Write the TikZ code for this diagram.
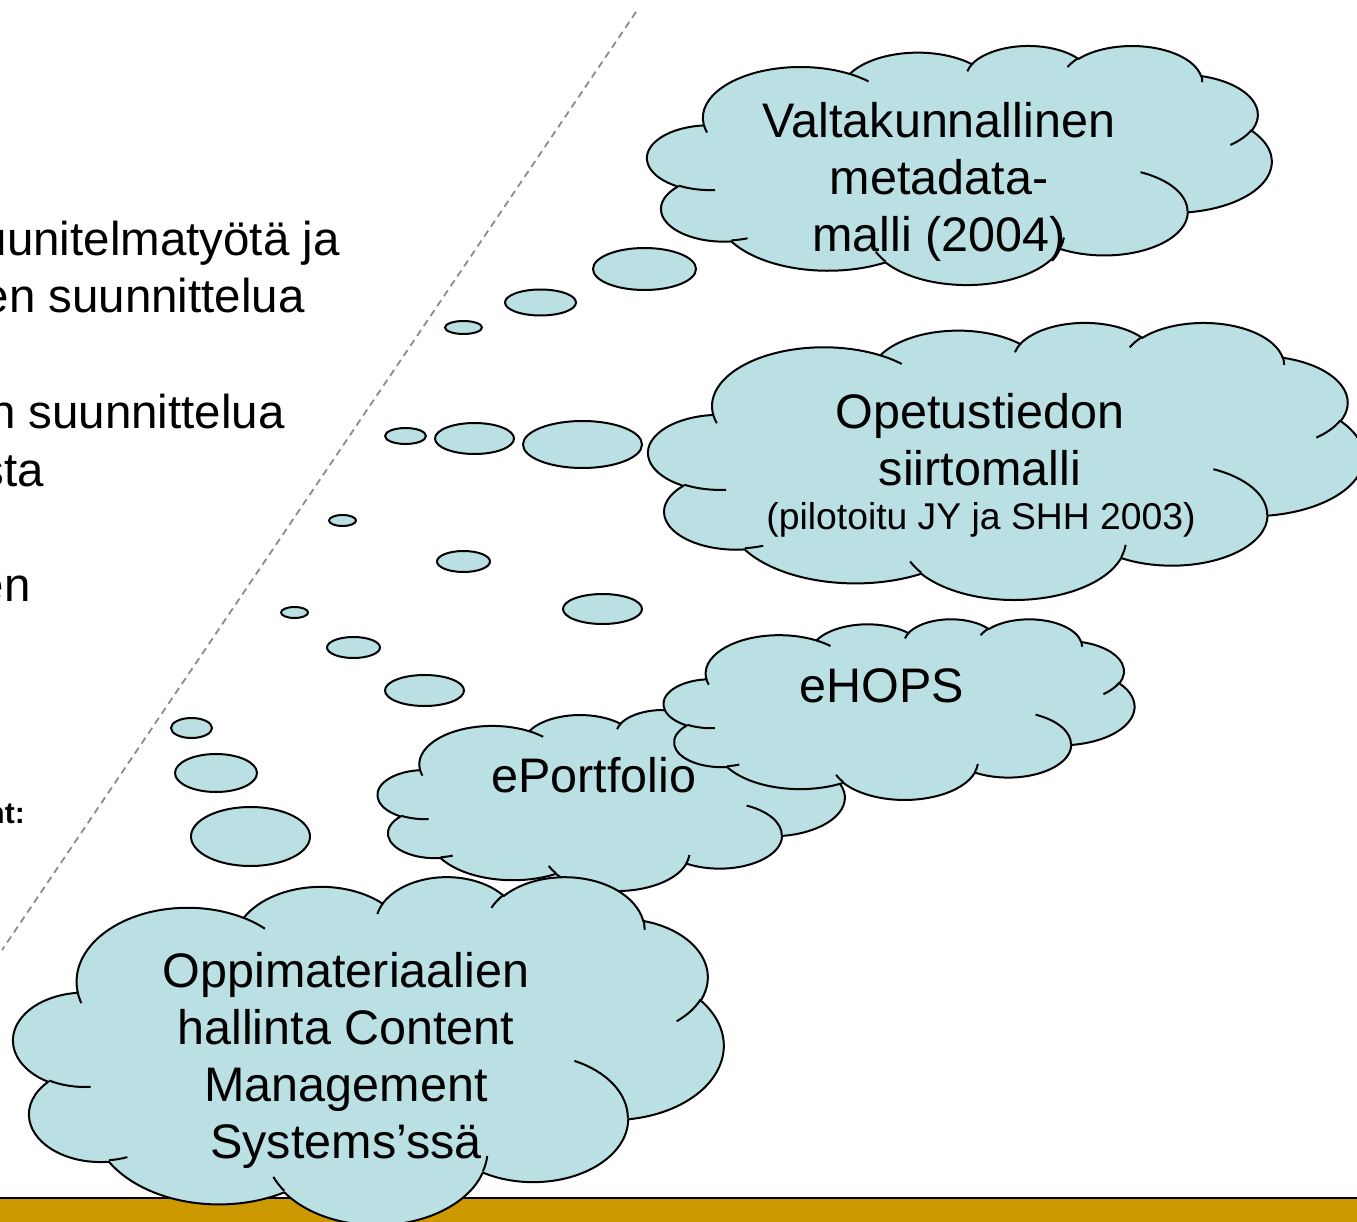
\documentclass[tikz,border=0pt]{standalone}
\usepackage{fontspec}
\setmainfont{Liberation Sans}
\definecolor{cloudfill}{RGB}{186,224,227}
\definecolor{bargold}{RGB}{204,153,0}
\definecolor{dashgray}{RGB}{140,140,140}

% one arc of the DrawingML cloud outline (radii in 1/100 of the 43200 frame, angles in degrees)
\newcommand\cldarc[4]{%
  \pgfmathsetmacro\cldSa{#3}%
  \pgfmathsetmacro\cldSb{#3+#4}%
  \pgfmathsetmacro\cldTa{atan2((#1)*sin(\cldSa),(#2)*cos(\cldSa))}%
  \pgfmathsetmacro\cldTb{atan2((#1)*sin(\cldSb),(#2)*cos(\cldSb))}%
  \pgfmathsetmacro\cldD{\cldTb-\cldTa-(#4)}%
  \pgfmathsetmacro\cldD{\cldD-360*round(\cldD/360)}%
  \pgfmathsetmacro\cldTb{\cldTa+(#4)+\cldD}%
  \pgfpatharcaxes{\cldTa}{\cldTb}{\pgfpointxy{#1}{0}}{\pgfpointxy{0}{#2}}%
}
% cloud shape: left, top, width, height (px)
\newcommand\drawcloud[4]{%
  \begin{scope}[xshift=#1pt,yshift=-#2pt]
  \pgfmathsetmacro\cldW{#3/432}\pgfmathsetmacro\cldH{#4/432}%
  \begin{scope}[x=\cldW pt,y=-\cldH pt,line width=2pt,line join=round]
    \pgfpathmoveto{\pgfpointxy{39}{143.7}}%
    \cldarc{67.53}{91.90}{-190.48748}{123.78053}%
    \cldarc{53.33}{72.67}{-144.10238}{89.94523}%
    \cldarc{43.65}{59.45}{-145.80792}{99.72302}%
    \cldarc{48.57}{65.95}{-130.98607}{117.24173}%
    \cldarc{53.33}{72.73}{-78.70888}{109.02692}%
    \cldarc{67.75}{92.20}{-46.26725}{130.269}%
    \cldarc{57.85}{78.67}{0.62502}{114.03333}%
    \cldarc{67.52}{92.15}{22.4516}{115.17255}%
    \cldarc{77.20}{105.43}{66.24263}{75.71102}%
    \cldarc{43.60}{59.18}{-274.94208}{146.73557}%
    \cldarc{43.45}{59.45}{-246.8285}{152.51885}%
    \pgfpathclose
    \pgfsetfillcolor{cloudfill}%
    \pgfusepath{fill,stroke}%
    \pgfpathmoveto{\pgfpointxy{46.93}{261.77}}\cldarc{43.45}{59.45}{86.742}{26.4295}%
    \pgfpathmoveto{\pgfpointxy{69.28}{348.99}}\cldarc{43.60}{59.18}{73.61047}{11.44747}%
    \pgfpathmoveto{\pgfpointxy{164.78}{390.90}}\cldarc{67.52}{92.15}{137.62415}{14.0811}%
    \pgfpathmoveto{\pgfpointxy{288.27}{347.51}}\cldarc{67.52}{92.15}{6.45327}{15.99835}%
    \pgfpathmoveto{\pgfpointxy{341.29}{229.54}}\cldarc{57.85}{78.67}{-70.29235}{70.91737}%
    \pgfpathmoveto{\pgfpointxy{417.98}{153.54}}\cldarc{53.33}{72.73}{30.31803}{27.7515}%
    \pgfpathmoveto{\pgfpointxy{383.24}{54.26}}\cldarc{48.57}{65.95}{-13.74433}{14.8589}%
    \pgfpathmoveto{\pgfpointxy{290.78}{39.52}}\cldarc{48.57}{65.95}{-149.18145}{18.19537}%
    \pgfpathmoveto{\pgfpointxy{221.41}{47.20}}\cldarc{43.65}{59.45}{-163.49427}{17.68635}%
    \pgfpathmoveto{\pgfpointxy{140.00}{51.92}}\cldarc{67.53}{91.90}{-66.70695}{12.31935}%
    \pgfpathmoveto{\pgfpointxy{41.27}{157.89}}\cldarc{67.53}{91.90}{157.65435}{11.85817}%
    \pgfusepath{stroke}%
  \end{scope}
  \end{scope}}

\tikzset{
  bubble/.style={draw=black,fill=cloudfill,line width=2pt},
  cloudtext/.style={font=\fontsize{48.5}{57}\selectfont,align=center,inner sep=0pt,anchor=base},
  smalltext/.style={font=\fontsize{37.3}{44}\selectfont,inner sep=0pt,anchor=base},
  lefttext/.style={font=\fontsize{47.5}{57}\selectfont,inner sep=0pt,anchor=base east},
  boldtext/.style={font=\fontsize{30}{36}\selectfont\bfseries,inner sep=0pt,anchor=base east},
  divider/.style={draw=dashgray,line width=1.8pt,dash pattern=on 7pt off 5pt}
}

\begin{document}
\begin{tikzpicture}[x=1pt,y=-1pt]
\useasboundingbox (0,0) rectangle (1357,1222);
\clip (0,0) rectangle (1357,1222);
\fill[white] (0,0) rectangle (1357,1222);

% left (cut-off) text
\node[lefttext] (L1) at (340,256) {uunitelmatyötä ja};
\node[lefttext] (L2) at (305,313) {en suunnittelua};
\node[lefttext] (L3) at (285,428) {n suunnittelua};
\node[lefttext] (L4) at (44,486) {sta};
\node[lefttext] (L5) at (31,601) {en};
\node[boldtext] (L6) at (25,823) {nt:};

% dashed divider
\coordinate (dtop) at (636,12);
\coordinate (dbot) at (2,950);
\draw[divider] (dtop) -- (dbot);

% bottom bar
\fill[bargold] (0,1199) rectangle (1357,1222);
\draw[line width=2.3pt] (0,1197.8) -- (1357,1197.8);

% thought bubbles
\draw[bubble] (644.5,269) ellipse [x radius=51.5, y radius=21];
\draw[bubble] (540.5,302.5) ellipse [x radius=35.5, y radius=13];
\draw[bubble] (463.5,327.5) ellipse [x radius=18.5, y radius=6.5];
\draw[bubble] (405.5,436) ellipse [x radius=20.5, y radius=8];
\draw[bubble] (474.5,438.5) ellipse [x radius=39.5, y radius=15.5];
\draw[bubble] (582.5,444.5) ellipse [x radius=59.5, y radius=23.5];
\draw[bubble] (342.5,520.5) ellipse [x radius=13.5, y radius=5.5];
\draw[bubble] (463.5,561.5) ellipse [x radius=26.5, y radius=10.5];
\draw[bubble] (602.5,609) ellipse [x radius=39.5, y radius=15];
\draw[bubble] (294.5,612.5) ellipse [x radius=13.5, y radius=5.5];
\draw[bubble] (353.5,647.5) ellipse [x radius=26.5, y radius=10.5];
\draw[bubble] (424.5,690.5) ellipse [x radius=39.5, y radius=15.5];
\draw[bubble] (191.5,728) ellipse [x radius=20.5, y radius=10];
\draw[bubble] (216,773) ellipse [x radius=41, y radius=19];
\draw[bubble] (250.5,836.5) ellipse [x radius=59.5, y radius=29.5];

% clouds
\drawcloud{647.4}{45.2}{624.2}{239}
\node[cloudtext] (Atext) at (939,252) {Valtakunnallinen\\metadata-\\malli (2004)};

\drawcloud{648.5}{322}{715}{277}
\node[cloudtext] (Btext) at (980,485) {Opetustiedon\\siirtomalli};
\node[smalltext] (Bsub) at (981,529) {(pilotoitu JY ja SHH 2003)};

\drawcloud{377.8}{709.4}{466.9}{181}
\node[cloudtext] (Dtext) at (594,792) {ePortfolio};

\drawcloud{663.8}{618.7}{470.6}{180.6}
\node[cloudtext] (Ctext) at (882,702) {eHOPS};

\drawcloud{13.5}{876}{710}{348}
\node[cloudtext] (Etext) at (346,1158) {Oppimateriaalien\\hallinta Content\\Management\\Systems’ssä};
\end{tikzpicture}
\end{document}
